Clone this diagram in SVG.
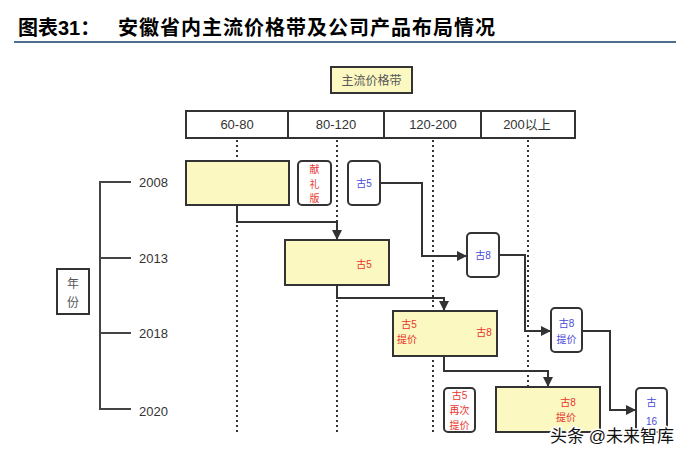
<svg xmlns="http://www.w3.org/2000/svg" width="689" height="457" viewBox="0 0 689 457">
<defs>
<marker id="arr" viewBox="0 0 10 10" refX="10" refY="5" markerWidth="10" markerHeight="10" markerUnits="userSpaceOnUse" orient="auto">
<path d="M0,0 L10,5 L0,10 Z" fill="#333"/>
</marker>
</defs>
<style>
.t{font-family:"Liberation Sans","Noto Sans CJK SC",sans-serif;}
.title{font-size:20px;font-weight:bold;fill:#000;}
.hdr{font-size:13px;fill:#333;text-anchor:middle;}
.yr{font-size:13px;fill:#333;}
.box{fill:#fcf8c2;stroke:#333;stroke-width:2;}
.wbox{fill:#fff;stroke:#333;stroke-width:2;}
.red{font-size:10px;fill:#e8362c;text-anchor:middle;}
.blue{font-size:10px;fill:#4a4ad8;text-anchor:middle;}
.gray{font-size:12px;fill:#555;text-anchor:middle;}
.dot{stroke:#333;stroke-width:2;stroke-dasharray:2 3;fill:none;}
.con{stroke:#333;stroke-width:2;fill:none;}
.axis{stroke:#444;stroke-width:2;fill:none;}
</style>
<rect width="689" height="457" fill="#fff"/>
<text class="t title" x="18" y="35">图表31：</text>
<text class="t title" x="118" y="35" letter-spacing="1">安徽省内主流价格带及公司产品布局情况</text>
<line x1="14" y1="42" x2="676" y2="42" stroke="#4f6f8f" stroke-width="2"/>

<g id="legend">
<rect class="box" x="331" y="67" width="81" height="26"/>
<text class="t gray" x="371.5" y="84.5">主流价格带</text>
</g>

<g id="header">
<rect class="wbox" x="186" y="111" width="389" height="27"/>
<line class="con" x1="288" y1="111" x2="288" y2="138"/>
<line class="con" x1="384" y1="111" x2="384" y2="138"/>
<line class="con" x1="481" y1="111" x2="481" y2="138"/>
<text class="t hdr" x="237" y="129">60-80</text>
<text class="t hdr" x="336" y="129">80-120</text>
<text class="t hdr" x="433" y="129">120-200</text>
<text class="t hdr" x="527" y="129">200以上</text>
</g>

<g id="gridlines">
<line class="dot" x1="237" y1="140" x2="237" y2="433"/>
<line class="dot" x1="337" y1="140" x2="337" y2="433"/>
<line class="dot" x1="433" y1="140" x2="433" y2="433"/>
<line class="dot" x1="528" y1="140" x2="528" y2="388"/>
</g>

<g id="year-axis">
<path class="axis" d="M131,182 H100 V409 H131 M100,258 H131 M100,333 H131"/>
<text class="t yr" x="139" y="187">2008</text>
<text class="t yr" x="139" y="263">2013</text>
<text class="t yr" x="139" y="338">2018</text>
<text class="t yr" x="139" y="416">2020</text>
</g>
<g id="year-label">
<rect class="wbox" x="57" y="269" width="32" height="45"/>
<text class="t gray" x="73" y="288">年</text>
<text class="t gray" x="73" y="307">份</text>
</g>

<g id="connectors">
<path class="con" d="M237,205 V222 H337 V240" marker-end="url(#arr)"/>
<path class="con" d="M380,183 H422 V256 H467" marker-end="url(#arr)"/>
<path class="con" d="M337,285 V298 H444 V311" marker-end="url(#arr)"/>
<path class="con" d="M499,255 H525 V331 H551" marker-end="url(#arr)"/>
<path class="con" d="M444,356 V371 H548 V387" marker-end="url(#arr)"/>
<path class="con" d="M582,331 H610 V410 H636" marker-end="url(#arr)"/>
</g>

<g id="n2008">
<rect class="box" x="186" y="161" width="103" height="44"/>
</g>
<g id="n-xianli">
<rect class="wbox" x="298" y="161" width="33" height="44" rx="4"/>
<text class="t red" x="314.5" y="173">献</text>
<text class="t red" x="314.5" y="187.5">礼</text>
<text class="t red" x="314.5" y="202">版</text>
</g>
<g id="n-gu5-2008">
<rect class="wbox" x="348" y="161" width="32" height="44" rx="4"/>
<text class="t blue" x="364" y="187">古5</text>
</g>
<g id="n2013">
<rect class="box" x="285" y="240" width="104" height="45"/>
<text class="t red" x="364" y="268">古5</text>
</g>
<g id="n-gu8-2013">
<rect class="wbox" x="467" y="233" width="32" height="44" rx="4"/>
<text class="t blue" x="483" y="259">古8</text>
</g>
<g id="n2018">
<rect class="box" x="393" y="311" width="104" height="45"/>
<text class="t red" x="409" y="328">古5</text>
<text class="t red" x="407" y="343">提价</text>
<text class="t red" x="484" y="336">古8</text>
</g>
<g id="n-gu8-2018">
<rect class="wbox" x="551" y="308" width="31" height="44" rx="4"/>
<text class="t blue" x="566.5" y="327">古8</text>
<text class="t blue" x="566.5" y="343">提价</text>
</g>
<g id="n-gu5-again">
<rect class="wbox" x="444" y="388" width="31" height="44" rx="4"/>
<text class="t red" x="459.5" y="399">古5</text>
<text class="t red" x="459.5" y="414">再次</text>
<text class="t red" x="459.5" y="429">提价</text>
</g>
<g id="n2020">
<rect class="box" x="496" y="387" width="104" height="45"/>
<text class="t red" x="568" y="406">古8</text>
<text class="t red" x="566" y="421">提价</text>
</g>
<g id="n-gu16">
<rect class="wbox" x="636" y="388" width="31" height="44" rx="4"/>
<text class="t blue" x="651.5" y="406">古</text>
<text class="t blue" x="651.5" y="425">16</text>
</g>

<text class="t" x="550" y="442" font-size="17" fill="#111" stroke="#fff" stroke-width="3" paint-order="stroke">头条 @未来智库</text>
</svg>
